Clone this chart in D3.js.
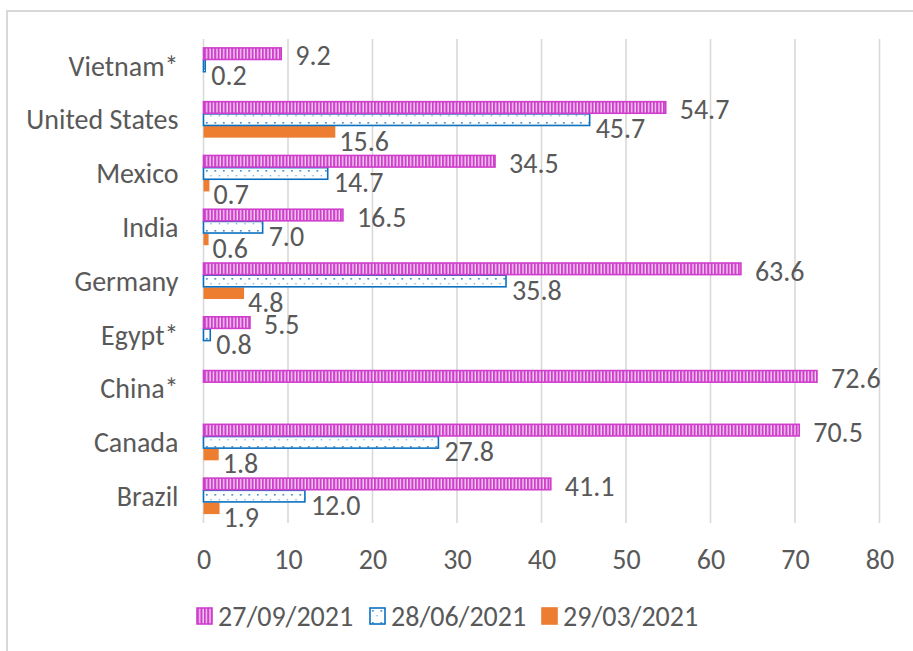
<!DOCTYPE html>
<html>
<head>
<meta charset="utf-8">
<script src="https://cdn.jsdelivr.net/npm/d3@7"></script>
<style>
  body { margin: 0; background: #fff; }
  text { font-family: Carlito, Calibri, Lato, sans-serif; fill: #595959; }
</style>
</head>
<body>
<svg width="913" height="651"></svg>
<script>
// countries, top to bottom as drawn
var countries = ["Vietnam*", "United States", "Mexico", "India", "Germany", "Egypt*", "China*", "Canada", "Brazil"];
var seriesNames = ["27/09/2021", "28/06/2021", "29/03/2021"];
var sep2021 = [9.2, 54.7, 34.5, 16.5, 63.6, 5.5, 72.6, 70.5, 41.1];
var jun2021 = [0.2, 45.7, 14.7, 7.0, 35.8, 0.8, null, 27.8, 12.0];
var mar2021 = [null, 15.6, 0.7, 0.6, 4.8, null, null, 1.8, 1.9];
var xTicks = [0, 10, 20, 30, 40, 50, 60, 70, 80];

var allSeries = [sep2021, jun2021, mar2021];
var fontSize = 28;

var svg = d3.select("svg");
var defs = svg.append("defs");

// magenta vertical stripes
var p1 = defs.append("pattern").attr("id", "stripes")
	.attr("patternUnits", "userSpaceOnUse").attr("width", 3.4).attr("height", 10);
p1.append("rect").attr("width", 3.4).attr("height", 10).attr("fill", "#f6d8f4");
p1.append("rect").attr("width", 2.1).attr("height", 10).attr("fill", "#cf3fcc");

// blue dotted
var p2 = defs.append("pattern").attr("id", "dots")
	.attr("patternUnits", "userSpaceOnUse").attr("width", 8.5).attr("height", 12);
p2.append("rect").attr("width", 8.5).attr("height", 12).attr("fill", "#fff");
p2.append("rect").attr("x", 2).attr("y", 2).attr("width", 1.6).attr("height", 1.6).attr("fill", "#2f7fc4");
p2.append("rect").attr("x", 6.3).attr("y", 7).attr("width", 1.4).attr("height", 1.4).attr("fill", "#7fb2de");

var fills = ["url(#stripes)", "url(#dots)", "#ed7d31"];
var strokes = ["#cf3fcc", "#0b70c0", "none"];

// chart border
svg.append("rect")
	.attr("x", 7).attr("y", 11).attr("width", 960).attr("height", 700)
	.attr("fill", "none").attr("stroke", "#d9d9d9").attr("stroke-width", 2);

var x = d3.scaleLinear().domain([0, 80]).range([203.5, 879.5]);
var y = d3.scaleBand().domain(countries).range([39, 523])
	.paddingInner(0.32).paddingOuter(0.16);
var ySub = d3.scaleBand().domain([0, 1, 2]).range([0, y.bandwidth()]);

// gridlines
svg.append("g").selectAll("line")
	.data(xTicks)
	.enter()
	.append("line")
	.attr("x1", function (d) { return x(d); })
	.attr("x2", function (d) { return x(d); })
	.attr("y1", 39).attr("y2", 523)
	.attr("stroke", "#d9d9d9").attr("stroke-width", 1.6);

// x axis labels
var xAxis = d3.axisBottom(x).tickValues(xTicks).tickSize(0).tickPadding(0);
var gx = svg.append("g").attr("transform", "translate(0,549)").call(xAxis);
gx.select(".domain").remove();
gx.selectAll("text").attr("font-size", fontSize).attr("dy", "0.71em")
	.style("fill", "#595959").style("font-family", "Carlito, Calibri, Lato, sans-serif");

// y axis labels
var yAxis = d3.axisLeft(y).tickSize(0).tickPadding(25);
var gy = svg.append("g").attr("transform", "translate(203.5,0)").call(yAxis);
gy.select(".domain").remove();
gy.selectAll("text").attr("font-size", fontSize).attr("dy", "0.35em")
	.style("fill", "#595959").style("font-family", "Carlito, Calibri, Lato, sans-serif");

// bars, bottom series first so magenta sits on top
var labelDx = [14, 6, 4];
var labelDy = [2, 9, 9];
[2, 1, 0].forEach(function (s) {
	var rows = countries.map(function (c, i) { return { c: c, v: allSeries[s][i] }; })
		.filter(function (d) { return d.v != null; });
	var g = svg.append("g");
	g.selectAll("rect")
		.data(rows)
		.enter()
		.append("rect")
		.attr("x", x(0))
		.attr("y", function (d) { return y(d.c) + ySub(s) + 0.3; })
		.attr("width", function (d) { return x(d.v) - x(0); })
		.attr("height", ySub.bandwidth() - 0.6)
		.attr("fill", fills[s])
		.attr("stroke", strokes[s])
		.attr("stroke-width", 1.6);
	g.selectAll("text")
		.data(rows)
		.enter()
		.append("text")
		.text(function (d) { return d.v.toFixed(1); })
		.attr("x", function (d) { return x(d.v) + labelDx[s]; })
		.attr("y", function (d) { return y(d.c) + ySub(s) + ySub.bandwidth() / 2 + labelDy[s]; })
		.attr("dy", "0.35em")
		.attr("font-size", fontSize);
});

// legend
var legendX = [197, 370, 542];
var lg = svg.append("g").selectAll("g")
	.data(seriesNames)
	.enter()
	.append("g")
	.attr("transform", function (d, i) { return "translate(" + legendX[i] + ",608)"; });
lg.append("rect")
	.attr("width", 15).attr("height", 16)
	.attr("fill", function (d, i) { return fills[i]; })
	.attr("stroke", function (d, i) { return strokes[i] == "none" ? "#ed7d31" : strokes[i]; })
	.attr("stroke-width", 1.6);
lg.append("text")
	.text(function (d) { return d; })
	.attr("x", 21).attr("y", 18)
	.attr("font-size", fontSize);
</script>
</body>
</html>
